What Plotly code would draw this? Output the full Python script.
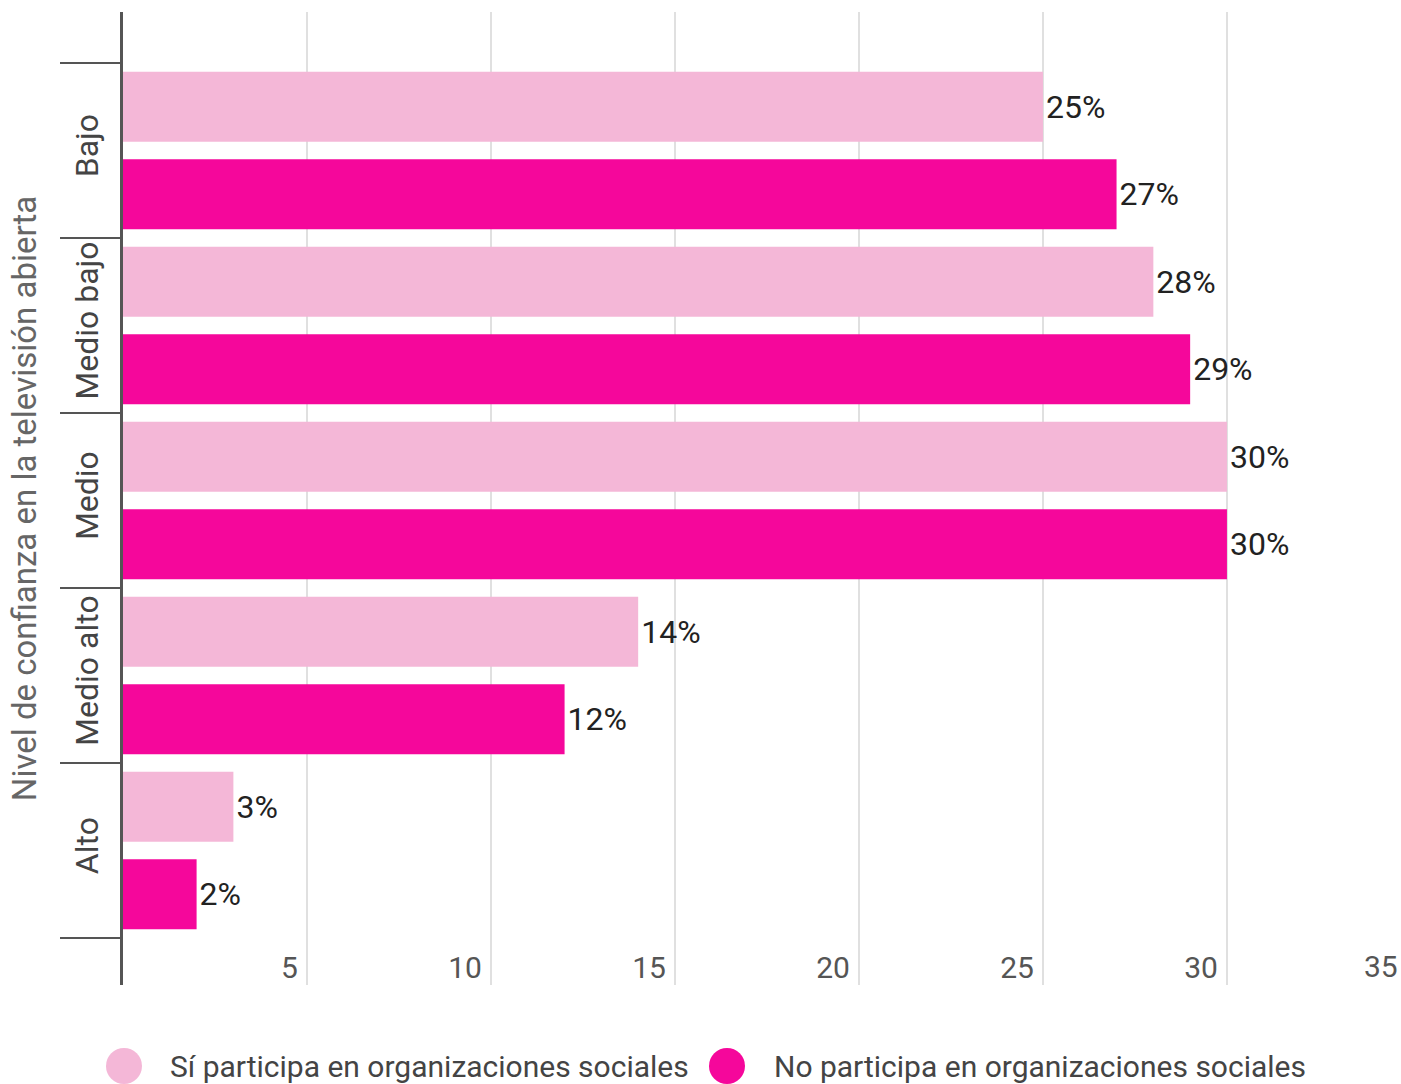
import plotly.graph_objects as go

# Confidence levels in open (broadcast) television, by participation in social organisations
niveles = ["Bajo", "Medio bajo", "Medio", "Medio alto", "Alto"]
si_participa = [25, 28, 30, 14, 3]
no_participa = [27, 29, 30, 12, 2]
serie_si = "Sí participa en organizaciones sociales"
serie_no = "No participa en organizaciones sociales"
eje_y_titulo = "Nivel de confianza en la televisión abierta"
x_ticks = [5, 10, 15, 20, 25, 30]
x_tick_extra = 35

COLOR_SI = "#F4B7D7"
COLOR_NO = "#F5079B"
FONT = "Roboto"

W, H = 1401, 1084
M_L, M_R, M_T, M_B = 123, 0, 12, 99
plot_w = W - M_L - M_R
plot_h = H - M_T - M_B


def to_paper(px, py):
    return (px - M_L) / plot_w, (H - M_B - py) / plot_h


fig = go.Figure()
for nombre, valores, color in [(serie_si, si_participa, COLOR_SI),
                               (serie_no, no_participa, COLOR_NO)]:
    fig.add_trace(go.Bar(
        name=nombre, y=niveles, x=valores, orientation="h",
        marker=dict(color=color, line=dict(width=0)),
        texttemplate="%{x}%", textposition="outside",
        textfont=dict(family=FONT, size=32, color="#222222"),
        cliponaxis=False, showlegend=False,
    ))

fig.update_layout(
    width=W, height=H,
    margin=dict(l=M_L, r=M_R, t=M_T, b=M_B, pad=0),
    paper_bgcolor="white", plot_bgcolor="white",
    barmode="group", bargap=0.0, bargroupgap=0.2,
    font=dict(family=FONT, color="#444444"),
    showlegend=False,
)

fig.update_xaxes(
    range=[0, 34.73],
    tickvals=x_ticks, ticktext=[str(v) for v in x_ticks],
    ticklabelposition="outside left",
    ticklabelshift=-9, ticklabelstandoff=-38,
    ticks="", showline=False, zeroline=False,
    showgrid=True, gridcolor="#E0E0E0", gridwidth=2,
    tickfont=dict(family=FONT, size=30, color="#555555"),
)

fig.update_yaxes(
    type="category", categoryorder="array", categoryarray=niveles,
    range=[4.769, -0.791],
    ticks="", ticklabelstandoff=9,
    tickangle=-90,
    tickfont=dict(family=FONT, size=32, color="#444444"),
    showline=True, linecolor="#555555", linewidth=3,
    showgrid=False, zeroline=False,
    title=dict(text=eje_y_titulo, standoff=22,
               font=dict(family=FONT, size=33, color="#666666")),
)

# separators between confidence levels, left of the axis
sep_x0, _ = to_paper(60, 0)
for i in range(len(niveles) + 1):
    fig.add_shape(type="line", xref="paper", yref="y",
                  x0=sep_x0, x1=0, y0=i - 0.5, y1=i - 0.5,
                  line=dict(color="#555555", width=2))

# tick label for 35 sits just past the right edge of the plot area
_, y35 = to_paper(0, 966)
fig.add_annotation(
    text=str(x_tick_extra), xref="paper", yref="paper",
    x=1.0, xanchor="right", xshift=-1,
    y=y35, yanchor="middle", showarrow=False,
    font=dict(family=FONT, size=30, color="#555555"),
)

# legend with large circular swatches
for cx, tx, nombre, color in [(124, 168, serie_si, COLOR_SI),
                              (727, 772, serie_no, COLOR_NO)]:
    xp, yp = to_paper(cx, 1066)
    fig.add_shape(type="circle", xref="paper", yref="paper",
                  xsizemode="pixel", ysizemode="pixel",
                  xanchor=xp, yanchor=yp, x0=-18, x1=18, y0=-18, y1=18,
                  fillcolor=color, line=dict(width=0), layer="above")
    txp, typ = to_paper(tx, 1066)
    fig.add_annotation(text=nombre, xref="paper", yref="paper",
                       x=txp, y=typ, xanchor="left", yanchor="middle",
                       showarrow=False,
                       font=dict(family=FONT, size=30, color="#444444"))

fig.write_html("out.html")
